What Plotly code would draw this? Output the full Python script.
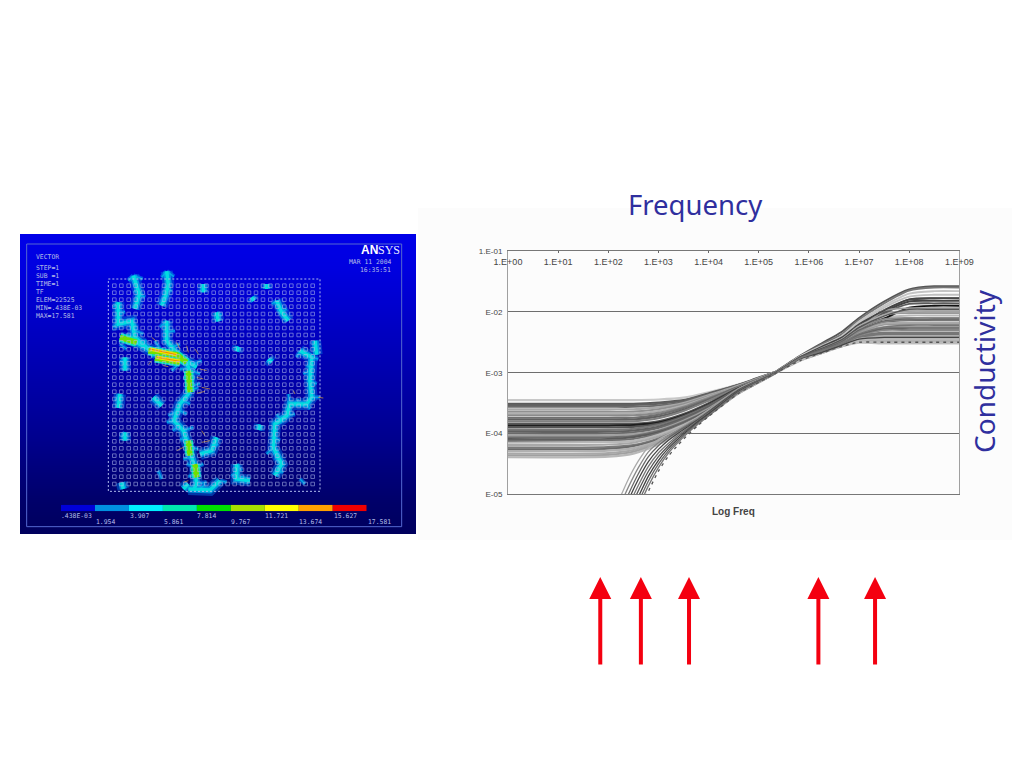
import plotly.graph_objects as go

# ---------- right chart data (log10 values) ----------
log_freq = [0, 2, 2.5, 3, 3.5, 4, 4.6, 5, 5.33, 5.83, 6.25, 6.65, 7, 7.5, 8, 8.5, 9]
plateau_curves = [
 [-3.45,-3.45,-3.45,-3.44,-3.41,-3.32,-3.19,-3.08,-2.99,-2.74,-2.57,-2.43,-2.22,-1.97,-1.80,-1.78,-1.78],
 [-3.51,-3.51,-3.51,-3.49,-3.45,-3.34,-3.20,-3.08,-2.99,-2.72,-2.52,-2.33,-2.10,-1.83,-1.63,-1.58,-1.58],
 [-3.53,-3.53,-3.53,-3.51,-3.46,-3.35,-3.20,-3.09,-2.99,-2.75,-2.63,-2.50,-2.34,-2.25,-2.24,-2.24,-2.24],
 [-3.56,-3.56,-3.56,-3.54,-3.48,-3.36,-3.21,-3.09,-2.99,-2.73,-2.54,-2.37,-2.13,-1.86,-1.65,-1.60,-1.60],
 [-3.60,-3.60,-3.60,-3.57,-3.50,-3.37,-3.21,-3.09,-2.99,-2.75,-2.64,-2.52,-2.40,-2.34,-2.34,-2.34,-2.34],
 [-3.64,-3.64,-3.64,-3.60,-3.52,-3.39,-3.22,-3.10,-2.99,-2.74,-2.60,-2.46,-2.28,-2.10,-2.06,-2.06,-2.06],
 [-3.67,-3.67,-3.67,-3.63,-3.54,-3.40,-3.22,-3.10,-3.00,-2.76,-2.66,-2.54,-2.43,-2.40,-2.40,-2.40,-2.40],
 [-3.70,-3.70,-3.70,-3.66,-3.56,-3.41,-3.23,-3.10,-3.00,-2.74,-2.59,-2.44,-2.24,-2.00,-1.83,-1.82,-1.82],
 [-3.74,-3.74,-3.74,-3.69,-3.58,-3.43,-3.23,-3.11,-3.00,-2.77,-2.67,-2.55,-2.47,-2.46,-2.46,-2.46,-2.46],
 [-3.77,-3.77,-3.77,-3.72,-3.61,-3.45,-3.24,-3.11,-3.00,-2.75,-2.62,-2.49,-2.30,-2.17,-2.14,-2.14,-2.14],
 [-3.80,-3.80,-3.80,-3.75,-3.63,-3.46,-3.24,-3.11,-3.00,-2.79,-2.68,-2.57,-2.50,-2.50,-2.50,-2.50,-2.50],
 [-3.84,-3.84,-3.84,-3.80,-3.68,-3.50,-3.25,-3.12,-3.00,-2.73,-2.57,-2.41,-2.19,-1.93,-1.75,-1.72,-1.72],
 [-3.87,-3.87,-3.86,-3.82,-3.70,-3.52,-3.26,-3.12,-3.00,-2.74,-2.62,-2.49,-2.27,-2.11,-1.93,-1.90,-1.90],
 [-3.90,-3.90,-3.89,-3.84,-3.71,-3.53,-3.26,-3.12,-3.00,-2.75,-2.63,-2.50,-2.33,-2.21,-2.20,-2.20,-2.20],
 [-3.94,-3.94,-3.92,-3.86,-3.73,-3.55,-3.27,-3.13,-3.00,-2.77,-2.66,-2.54,-2.42,-2.37,-2.37,-2.37,-2.37],
 [-3.97,-3.97,-3.95,-3.89,-3.75,-3.56,-3.27,-3.13,-3.00,-2.74,-2.60,-2.46,-2.25,-2.03,-1.98,-1.98,-1.98],
 [-4.00,-4.00,-3.98,-3.91,-3.77,-3.58,-3.28,-3.13,-3.00,-2.78,-2.67,-2.55,-2.49,-2.48,-2.48,-2.48,-2.48],
 [-4.03,-4.03,-4.01,-3.94,-3.79,-3.59,-3.29,-3.14,-3.00,-2.75,-2.61,-2.47,-2.27,-2.12,-2.10,-2.10,-2.10],
 [-4.06,-4.06,-4.04,-3.96,-3.81,-3.61,-3.29,-3.14,-3.00,-2.76,-2.64,-2.52,-2.39,-2.30,-2.30,-2.30,-2.30],
 [-4.09,-4.09,-4.06,-3.98,-3.83,-3.62,-3.30,-3.14,-3.01,-2.74,-2.59,-2.44,-2.24,-2.02,-1.87,-1.86,-1.86],
 [-4.12,-4.11,-4.09,-4.00,-3.84,-3.63,-3.30,-3.14,-3.01,-2.77,-2.66,-2.54,-2.44,-2.43,-2.43,-2.43,-2.43],
 [-4.15,-4.14,-4.12,-4.02,-3.86,-3.64,-3.31,-3.15,-3.01,-2.73,-2.56,-2.40,-2.16,-1.90,-1.70,-1.66,-1.66],
 [-4.19,-4.18,-4.15,-4.05,-3.88,-3.65,-3.31,-3.15,-3.01,-2.75,-2.63,-2.50,-2.31,-2.19,-2.18,-2.18,-2.18],
 [-4.23,-4.22,-4.19,-4.08,-3.90,-3.66,-3.32,-3.15,-3.01,-2.78,-2.67,-2.55,-2.46,-2.45,-2.45,-2.45,-2.45],
 [-4.26,-4.25,-4.21,-4.10,-3.91,-3.67,-3.32,-3.15,-3.01,-2.75,-2.61,-2.47,-2.28,-2.05,-2.02,-2.02,-2.02],
 [-4.29,-4.28,-4.24,-4.12,-3.93,-3.68,-3.33,-3.16,-3.01,-2.76,-2.64,-2.52,-2.38,-2.27,-2.26,-2.26,-2.26],
 [-4.33,-4.32,-4.27,-4.14,-3.94,-3.69,-3.33,-3.16,-3.01,-2.80,-2.68,-2.57,-2.51,-2.52,-2.52,-2.52,-2.52],
 [-4.36,-4.35,-4.30,-4.16,-3.95,-3.69,-3.34,-3.16,-3.01,-2.75,-2.60,-2.46,-2.29,-1.98,-1.94,-1.94,-1.94],
 [-4.39,-4.38,-4.33,-4.18,-3.96,-3.70,-3.34,-3.16,-3.01,-2.80,-2.68,-2.57,-2.49,-2.51,-2.51,-2.51,-2.51],
]
steep_freq = [2.2, 2.4, 2.6, 2.8, 3, 3.2, 3.4, 3.6, 3.8, 4, 4.6, 5, 5.33, 5.83, 6.25, 6.65, 7, 7.5, 8, 8.5, 9]
steep_curves = [
 [-5.12,-4.75,-4.45,-4.22,-4.10,-4.01,-3.92,-3.82,-3.72,-3.61,-3.26,-3.11,-3.00,-2.74,-2.59,-2.44,-2.23,-2.05,-2.00,-2.00,-2.00],
 [-5.25,-4.88,-4.56,-4.30,-4.15,-4.04,-3.94,-3.84,-3.74,-3.63,-3.27,-3.12,-3.00,-2.75,-2.62,-2.49,-2.32,-2.16,-2.13,-2.13,-2.13],
 [-5.38,-5.00,-4.66,-4.38,-4.20,-4.07,-3.96,-3.86,-3.76,-3.64,-3.28,-3.12,-3.00,-2.76,-2.64,-2.52,-2.37,-2.28,-2.28,-2.28,-2.28],
 [-5.50,-5.10,-4.75,-4.46,-4.26,-4.11,-3.99,-3.88,-3.77,-3.65,-3.29,-3.13,-3.00,-2.74,-2.57,-2.42,-2.20,-1.98,-1.79,-1.77,-1.77],
 [-5.60,-5.20,-4.85,-4.54,-4.32,-4.16,-4.02,-3.90,-3.78,-3.66,-3.30,-3.13,-3.00,-2.77,-2.66,-2.54,-2.41,-2.36,-2.36,-2.36,-2.36],
 [-5.70,-5.30,-4.94,-4.62,-4.38,-4.20,-4.05,-3.92,-3.79,-3.67,-3.31,-3.14,-3.00,-2.74,-2.60,-2.46,-2.26,-2.07,-1.96,-1.96,-1.96],
 [-5.80,-5.40,-5.04,-4.70,-4.44,-4.24,-4.08,-3.94,-3.80,-3.68,-3.31,-3.14,-3.01,-2.77,-2.67,-2.55,-2.45,-2.42,-2.42,-2.42,-2.42],
 [-5.90,-5.50,-5.13,-4.78,-4.50,-4.28,-4.11,-3.96,-3.82,-3.70,-3.32,-3.15,-3.01,-2.75,-2.62,-2.49,-2.30,-2.15,-2.12,-2.12,-2.12],
 [-6.00,-5.60,-5.22,-4.86,-4.56,-4.32,-4.14,-3.98,-3.84,-3.71,-3.33,-3.15,-3.01,-2.76,-2.64,-2.52,-2.36,-2.25,-2.22,-2.22,-2.22],
 [-6.10,-5.70,-5.35,-4.95,-4.62,-4.37,-4.18,-4.01,-3.86,-3.72,-3.34,-3.16,-3.01,-2.80,-2.68,-2.57,-2.50,-2.50,-2.50,-2.50,-2.50],
]
x_ticks = [1e0, 1e1, 1e2, 1e3, 1e4, 1e5, 1e6, 1e7, 1e8, 1e9]
x_labels = ["1.E+00","1.E+01","1.E+02","1.E+03","1.E+04","1.E+05","1.E+06","1.E+07","1.E+08","1.E+09"]
y_ticks = [1e-1, 1e-2, 1e-3, 1e-4, 1e-5]
y_labels = ["1.E-01","E-02","E-03","E-04","E-05"]
arrow_log_freqs = [1.84, 2.65, 3.61, 6.19, 7.32]

# ---------- left panel data (picture units) ----------
hole_x = [283,304,326,347,368,389,411,432,453,474,496,517,538,559,581,602,623,644,666,687,708,729,751,772,793,814,836,857,878]
hole_y = [155,176,197,218,240,261,282,303,325,346,367,388,410,431,452,473,495,516,537,558,580,601,622,643,665,686,707,728,750]
bg_y = [-50, 100, 200, 300, 400, 500, 600, 700, 800, 950]
bg_level = [0.98, 0.90, 0.80, 0.70, 0.60, 0.50, 0.40, 0.28, 0.16, 0.04]
cool_paths = [
 [(300,310),(340,320),(385,345),(440,365),(500,385),(515,430),(505,480),(480,510),(462,560),(490,590),(505,640),(525,700),(530,750),(520,768)],
 [(440,112),(445,150),(437,185),(425,215)],
 [(340,125),(358,180),(345,225)],
 [(295,205),(295,270),(335,262),(345,310),(385,345)],
 [(440,260),(440,320),(480,370),(530,400)],
 [(770,200),(785,235),(805,260)],
 [(590,235),(595,262)],
 [(840,350),(875,370),(870,440),(875,490),(860,510),(810,510),(800,545),(765,570),(760,640),(785,690),(765,725)],
 [(300,480),(295,522)],
 [(315,370),(315,410)],
 [(650,690),(650,735),(690,740)],
 [(505,765),(570,768),(600,740)],
 [(590,610),(575,650),(540,660)],
 [(400,490),(425,515)],
 [(550,150),(550,175)],
 [(740,150),(740,165)],
 [(695,190),(702,200)],
 [(315,595),(315,620)],
 [(885,320),(890,362)],
 [(720,572),(716,588)],
 [(655,338),(650,352)],
 [(745,375),(755,385)],
 [(505,750),(490,765)],
 [(305,745),(310,765)],
]
twig_paths = [
 [(440,112),(425,130)],[(440,112),(462,128)],[(340,125),(325,140)],[(340,125),(368,135)],[(358,180),(375,190)],[(358,180),(342,170)],
 [(295,205),(280,220)],[(295,240),(315,232)],[(295,265),(280,280)],[(335,262),(350,280)],[(345,290),(370,300)],[(345,310),(320,300)],
 [(440,260),(420,280)],[(440,295),(465,290)],[(360,325),(380,320)],[(420,345),(405,320)],[(455,340),(480,330)],[(520,390),(545,380)],
 [(515,410),(540,420)],[(515,440),(490,430)],[(510,470),(535,460)],[(490,500),(510,510)],[(465,535),(445,545)],[(465,560),(440,565)],
 [(490,590),(520,580)],[(505,620),(480,615)],[(510,640),(535,645)],[(515,670),(490,675)],[(525,700),(550,690)],[(530,730),(505,725)],
 [(530,750),(560,745)],[(770,200),(755,210)],[(785,235),(800,225)],[(840,350),(830,370)],[(875,370),(895,375)],[(870,410),(850,420)],
 [(870,440),(890,450)],[(875,490),(900,490)],[(810,510),(805,480)],[(860,510),(870,525)],[(800,545),(825,540)],[(765,570),(790,560)],
 [(760,610),(780,620)],[(760,640),(740,660)],[(785,690),(765,670)],[(650,690),(665,710)],[(650,735),(635,720)],[(300,480),(285,500)],
 [(315,390),(300,380)],[(590,235),(605,245)],[(600,740),(620,745)],[(840,735),(855,750)],[(415,710),(425,735)],[(315,595),(305,610)],
 [(340,150),(352,142)],[(437,160),(455,172)],[(300,330),(320,345)],[(410,355),(395,370)],[(470,395),(455,410)],[(500,405),(480,405)],
 [(520,455),(540,448)],[(480,530),(500,540)],[(478,575),(458,590)],[(520,695),(500,690)],[(540,765),(555,750)],[(878,400),(860,395)],
 [(830,510),(835,495)],[(780,555),(770,540)],[(760,660),(775,650)],[(770,710),(790,715)],[(670,740),(665,725)],[(575,640),(595,630)],
]
warm_paths = [
 [(300,310),(350,325)],
 [(385,350),(470,362),(500,385)],
 [(405,372),(480,385)],
 [(505,410),(510,475)],
 [(505,620),(510,665)],
 [(525,690),(530,730)],
]
hot_paths = [
 [(390,345),(470,362)],
 [(410,370),(480,382)],
]
spike_paths = [
 [(395,310),(410,322)],[(470,325),(480,345)],[(500,335),(505,355)],[(525,345),(535,360)],
 [(395,380),(385,392)],[(430,395),(445,398)],[(540,405),(560,410)],[(530,430),(550,435)],
 [(545,460),(570,465)],[(530,478),(555,472)],[(820,470),(825,480)],[(545,590),(555,605)],
 [(545,625),(570,620)],[(470,650),(490,640)],[(490,745),(505,740)],[(895,490),(910,492)],
]
frame_x = [20, 1145, 1145, 20, 20]
frame_y = [30, 30, 878, 878, 30]
edge_x = [265, 900, 900, 265, 265]
edge_y = [135, 135, 772, 772, 135]
info_lines = ["VECTOR", "STEP=1", "SUB =1", "TIME=1", "TF", "ELEM=22525", "MIN=.438E-03", "MAX=17.581"]
info_y = [68, 103, 127, 151, 175, 198, 222, 246]

# ---------- colour bar data ----------
bar_lower = [0.000438, 1.954, 3.907, 5.861, 7.814, 9.767, 11.721, 13.674, 15.627]
bar_width = [1.954, 1.953, 1.954, 1.953, 1.953, 1.954, 1.953, 1.953, 1.954]
bar_colors = ["#0000d8","#0090e0","#00f0ff","#00e8b0","#00e000","#a8e000","#ffff00","#ffa000","#f00000"]
bar_labels = [".438E-03","1.954","3.907","5.861","7.814","9.767","11.721","13.674","15.627","17.581"]
bar_label_x = [170, 255, 357, 459, 560, 662, 770, 872, 975, 1077]

W, H = 1024, 768
fx = lambda px: px / W
fy = lambda px: 1 - px / H
pow10 = lambda seq: [10 ** v for v in seq]

fig = go.Figure()

# blue panel
fig.add_trace(go.Heatmap(x=[0, 1188], y=bg_y, z=[[v, v] for v in bg_level], zmin=0, zmax=1, zsmooth="best",
                         colorscale=[[0, "#000050"], [1, "#0000f0"]], showscale=False, hoverinfo="skip",
                         xaxis="x", yaxis="y"))

def panel_paths(paths, color, width, opacity=1.0):
    xs, ys = [], []
    for p in paths:
        xs += [q[0] for q in p] + [None]
        ys += [q[1] for q in p] + [None]
    fig.add_trace(go.Scatter(x=xs, y=ys, mode="lines", line=dict(color=color, width=width), opacity=opacity,
                             xaxis="x", yaxis="y", hoverinfo="skip", showlegend=False))

panel_paths([list(zip(frame_x, frame_y))], "#5468d0", 1)
panel_paths(twig_paths, "#0078e8", 4.5, 0.7)
panel_paths(cool_paths, "#0070e0", 12, 0.5)
panel_paths(cool_paths, "#00a8e8", 7, 0.8)
panel_paths(twig_paths, "#00b8e8", 1.5, 0.8)
panel_paths(cool_paths, "#00e0e0", 3.5, 0.95)
panel_paths(warm_paths, "#00e0c0", 9)
panel_paths(warm_paths, "#70e000", 5.5)
panel_paths(hot_paths, "#f0e000", 3.5)
panel_paths(hot_paths, "#f07000", 0.8)
panel_paths(spike_paths, "#c09040", 1, 0.8)
fig.add_trace(go.Scatter(x=edge_x, y=edge_y, mode="lines", line=dict(color="#b0bcec", width=1, dash="2px,2px"),
                         xaxis="x", yaxis="y", hoverinfo="skip", showlegend=False))
fig.add_trace(go.Scatter(x=[a for b in hole_y for a in hole_x], y=[b for b in hole_y for a in hole_x], mode="markers",
                         marker=dict(symbol="square-open", size=3.6, color="#b0bcec", line=dict(width=0.7, color="#b0bcec")),
                         opacity=0.8, xaxis="x", yaxis="y", hoverinfo="skip", showlegend=False))

# colour bar
fig.add_trace(go.Bar(x=bar_width, base=bar_lower, y=[0] * 9, orientation="h", width=1,
                     marker=dict(color=bar_colors, line=dict(width=0)), xaxis="x3", yaxis="y3",
                     hoverinfo="skip", showlegend=False))

# curves: left part and right part of each curve carry their own grey, as in the scan
plateau_left = ["#c8c8c8","#5a5a5a","#606060","#6a6a6a","#a8a8a8","#909090","#b0b0b0","#8a8a8a","#707070","#606060",
                "#808080","#555555","#1e1e1e","#555555","#787878","#606060","#6a6a6a","#a0a0a0","#6e6e6e","#5a5a5a",
                "#707070","#b8b8b8","#a8a8a8","#7a7a7a","#6a6a6a","#b0b0b0","#a8a8a8","#a0a0a0","#b8b8b8"]
plateau_right = ["#4a4a4a","#555555","#a8a8a8","#777777","#777777","#b8b8b8","#aaaaaa","#444444","#999999","#666666",
                 "#bbbbbb","#c0c0c0","#111111","#999999","#777777","#aaaaaa","#b0b0b0","#8a8a8a","#888888","#5a5a5a",
                 "#aaaaaa","#c4c4c4","#aaaaaa","#bbbbbb","#999999","#777777","#c0c0c0","#999999","#bbbbbb"]
split = 9
order = list(range(len(plateau_curves)))
for i in order:
    row = plateau_curves[i]
    fig.add_trace(go.Scatter(x=pow10(log_freq[:split]), y=pow10(row[:split]), mode="lines",
                             line=dict(color=plateau_left[i], width=2.1, shape="spline", smoothing=0.7),
                             xaxis="x2", yaxis="y2", hoverinfo="skip", showlegend=False))
for i in order:
    row = plateau_curves[i]
    fig.add_trace(go.Scatter(x=pow10(log_freq[split - 1:]), y=pow10(row[split - 1:]), mode="lines",
                             line=dict(color=plateau_right[i], width=1.9, shape="spline", smoothing=0.7),
                             xaxis="x2", yaxis="y2", hoverinfo="skip", showlegend=False))
steep_colors = ["#aaaaaa","#888888","#666666","#444444","#777777","#555555","#444444","#666666","#777777","#555555"]
for i, (row, col) in enumerate(zip(steep_curves, steep_colors)):
    fig.add_trace(go.Scatter(x=pow10(steep_freq), y=pow10(row), mode="lines",
                             line=dict(color=col, width=1.3, shape="spline", smoothing=0.7,
                                       dash="3px,4px" if i == 9 else "solid"),
                             xaxis="x2", yaxis="y2", hoverinfo="skip", showlegend=False))

ann = []
mono = dict(family="DejaVu Sans Mono", size=6.4, color="#b4bce8")
for txt, y in zip(info_lines, info_y):
    ann.append(dict(x=42, y=y, xref="x", yref="y", text=txt, showarrow=False, xanchor="left", yanchor="middle", font=mono))
ann.append(dict(x=1080, y=48, xref="x", yref="y", text="<b>AN</b>", showarrow=False, xanchor="right", yanchor="middle",
                font=dict(family="Liberation Sans", size=12, color="#ffffff")))
ann.append(dict(x=1068, y=48, xref="x", yref="y", text="SYS", showarrow=False, xanchor="left", yanchor="middle",
                font=dict(family="Liberation Serif", size=12, color="#e8ecff")))
ann.append(dict(x=1118, y=84, xref="x", yref="y", text="MAR 11 2004", showarrow=False, xanchor="right", yanchor="middle", font=mono))
ann.append(dict(x=1118, y=108, xref="x", yref="y", text="16:35:51", showarrow=False, xanchor="right", yanchor="middle", font=mono))
for i, txt in enumerate(bar_labels):
    ann.append(dict(x=bar_label_x[i], y=847 if i % 2 == 0 else 863, xref="x", yref="y", xanchor="center", yanchor="middle",
                    text=txt, showarrow=False, font=mono))

ann.append(dict(x=fx(695), y=fy(205), xref="paper", yref="paper", text="Frequency", showarrow=False,
                xanchor="center", yanchor="middle", font=dict(family="Noto Sans", size=27.5, color="#2f2f9e")))
ann.append(dict(x=fx(984), y=fy(371), xref="paper", yref="paper", text="Conductivity", showarrow=False, textangle=-90,
                xanchor="center", yanchor="middle", font=dict(family="Noto Sans", size=28, color="#2f2f9e")))
ann.append(dict(x=fx(733), y=fy(511), xref="paper", yref="paper", text="<b>Log Freq</b>", showarrow=False,
                xanchor="center", yanchor="middle", font=dict(family="Liberation Sans", size=10, color="#444444")))
for lf in arrow_log_freqs:
    ann.append(dict(x=lf, y=fy(577), xref="x2", yref="paper", ax=0, ay=89, axref="pixel", ayref="pixel", text="",
                    showarrow=True, arrowhead=2, arrowsize=1.1, arrowwidth=4, arrowcolor="#f40010"))

fig.update_layout(
    width=W, height=H, margin=dict(l=0, r=0, t=0, b=0, autoexpand=False), paper_bgcolor="#ffffff", plot_bgcolor="rgba(0,0,0,0)",
    showlegend=False, annotations=ann, barmode="overlay",
    shapes=[dict(type="rect", xref="paper", yref="paper", x0=fx(418), x1=fx(1012), y0=fy(540), y1=fy(208),
                 fillcolor="#fcfcfc", line=dict(width=0), layer="below")],
    xaxis=dict(domain=[fx(20), fx(416)], range=[0, 1188], visible=False, anchor="y"),
    yaxis=dict(domain=[fy(534), fy(234)], range=[900, 0], visible=False, anchor="x"),
    xaxis2=dict(domain=[fx(508), fx(959.3)], type="log", range=[0, 9], side="top", anchor="y2", tickvals=x_ticks,
                ticktext=x_labels, ticklabelstandoff=-19, ticks="inside", ticklen=2, tickcolor="#666666",
                showgrid=False, zeroline=False, showline=True, linecolor="#777777", mirror=True,
                tickfont=dict(family="Liberation Sans", size=9, color="#444444")),
    yaxis2=dict(domain=[fy(494.4), fy(251)], type="log", range=[-5, -1], anchor="x2", tickvals=y_ticks, ticktext=y_labels,
                showgrid=True, gridcolor="#6e6e6e", gridwidth=1, zeroline=False, showline=True, linecolor="#a0a0a0",
                mirror=True, ticks="", ticklabelstandoff=3, tickfont=dict(family="Liberation Sans", size=8, color="#444444")),
    xaxis3=dict(domain=[fx(61), fx(366.7)], range=[0, 17.581], visible=False, anchor="y3"),
    yaxis3=dict(domain=[fy(511.3), fy(504.7)], range=[-0.5, 0.5], visible=False, anchor="x3"),
)

fig.write_html("out.html", post_script="document.body.style.margin='0';", config={"displayModeBar": False})
